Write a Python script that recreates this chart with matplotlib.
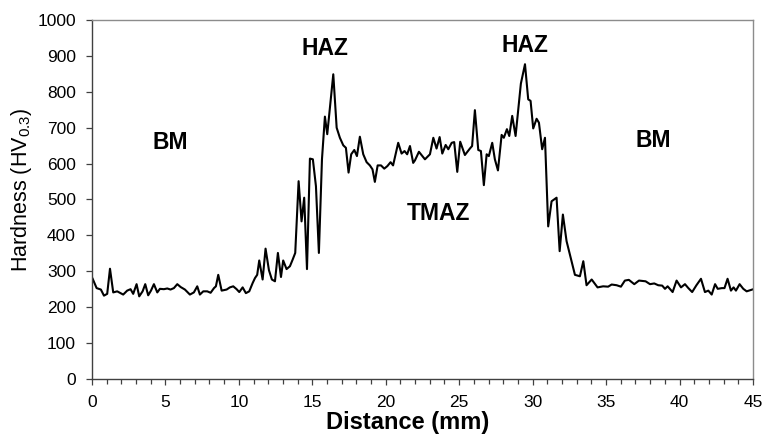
import numpy as np
import matplotlib
matplotlib.use('Agg')
import matplotlib.pyplot as plt
from matplotlib.ticker import MultipleLocator

plt.rcParams['font.family'] = ['Liberation Sans', 'DejaVu Sans']
plt.rcParams['mathtext.fontset'] = 'custom'
plt.rcParams['mathtext.rm'] = 'Liberation Sans'
plt.rcParams['mathtext.default'] = 'regular'

# hardness profile (distance in mm, hardness in HV0.3)
distance = [
    0.05, 0.32, 0.61, 0.82, 1.04, 1.23, 1.45, 1.72, 2.13, 2.40, 2.63, 2.81,
    3.04, 3.22, 3.45, 3.63, 3.83, 4.02, 4.22, 4.45, 4.63, 4.90, 5.13, 5.35,
    5.58, 5.81, 6.04, 6.33, 6.67, 6.94, 7.17, 7.35, 7.58, 7.85, 8.08, 8.31,
    8.44, 8.60, 8.83, 9.17, 9.39, 9.62, 9.85, 10.03, 10.26, 10.48, 10.71,
    10.94, 11.10, 11.25, 11.39, 11.62, 11.82, 12.05, 12.25, 12.46, 12.66,
    12.87, 13.02, 13.25, 13.48, 13.66, 13.84, 14.07, 14.27, 14.45, 14.64,
    14.84, 15.04, 15.25, 15.45, 15.66, 15.86, 16.02, 16.43, 16.66, 16.88,
    17.11, 17.29, 17.47, 17.65, 17.86, 18.04, 18.24, 18.47, 18.70, 18.92,
    19.10, 19.26, 19.45, 19.68, 19.90, 20.11, 20.33, 20.50, 20.85, 21.08,
    21.28, 21.46, 21.65, 21.87, 21.99, 22.26, 22.67, 23.01, 23.24, 23.46,
    23.67, 23.85, 24.08, 24.26, 24.49, 24.66, 24.87, 25.07, 25.39, 25.73,
    25.88, 26.07, 26.30, 26.48, 26.68, 26.87, 27.02, 27.25, 27.43, 27.64,
    27.89, 28.04, 28.25, 28.41, 28.61, 28.84, 29.02, 29.20, 29.48, 29.70,
    29.86, 30.04, 30.27, 30.43, 30.65, 30.84, 31.06, 31.29, 31.63, 31.84,
    32.06, 32.31, 32.65, 32.88, 33.22, 33.45, 33.67, 34.02, 34.42, 34.80,
    35.14, 35.38, 35.72, 36.01, 36.28, 36.55, 36.92, 37.24, 37.69, 37.99,
    38.28, 38.55, 38.82, 39.01, 39.19, 39.53, 39.80, 40.10, 40.37, 40.60,
    40.86, 41.15, 41.46, 41.73, 41.96, 42.19, 42.42, 42.60, 42.88, 43.06,
    43.27, 43.50, 43.68, 43.84, 44.09, 44.34, 44.57, 44.95,
]
hardness = [
    279, 253, 249, 232, 237, 307, 241, 244, 235, 246, 250, 237,
    264, 230, 244, 264, 233, 246, 264, 241, 251, 250, 252, 249,
    253, 264, 256, 249, 235, 241, 258, 235, 244, 244, 240, 253,
    258, 290, 246, 249, 255, 258, 250, 242, 255, 239, 244,
    267, 281, 290, 330, 277, 363, 303, 277, 272, 351,
    284, 330, 306, 314, 332, 351, 551, 439, 505, 306,
    614, 612, 537, 351, 612, 731, 682, 849, 700, 672,
    651, 644, 575, 626, 638, 621, 675, 626, 604, 595,
    584, 549, 595, 595, 586, 593, 604, 595, 658, 628,
    635, 626, 649, 602, 609, 633, 612, 626, 672, 642,
    674, 628, 652, 640, 658, 660, 577, 661, 624, 642,
    649, 749, 638, 635, 540, 626, 621, 658, 612, 581,
    680, 672, 696, 677, 733, 677, 751, 823, 877, 779,
    775, 698, 725, 714, 640, 672, 425, 495, 505, 356,
    458, 384, 328, 290, 286, 328, 261, 277, 255, 258,
    257, 263, 261, 257, 274, 276, 264, 274, 272, 264,
    266, 261, 260, 251, 258, 242, 274, 255, 264, 253,
    242, 261, 279, 242, 246, 235, 264, 251, 253, 253,
    279, 246, 255, 246, 264, 251, 244, 249,
]

zone_labels = ['BM', 'HAZ', 'TMAZ', 'HAZ', 'BM']
zone_x = [5.3, 15.85, 23.6, 29.5, 38.2]
zone_y = [658, 922, 462, 928, 665]

fig = plt.figure(figsize=(7.66, 4.37), dpi=100)
ax = fig.add_axes([0.120, 0.133, 0.863, 0.821])

ax.plot(distance, hardness, color='black', lw=1.5)

for lab, zx, zy in zip(zone_labels, zone_x, zone_y):
    ax.text(zx, zy, lab, ha='center', va='center', fontsize=16.5,
            fontweight='bold')

ax.set_xlim(0, 45)
ax.set_ylim(0, 1000)
ax.xaxis.set_major_locator(MultipleLocator(5))
ax.xaxis.set_minor_locator(MultipleLocator(1))
ax.yaxis.set_major_locator(MultipleLocator(100))

for key in ['left', 'bottom']:
    ax.spines[key].set_color('#404040')
    ax.spines[key].set_linewidth(1.0)
for key in ['top', 'right']:
    ax.spines[key].set_color('#8c8c8c')
    ax.spines[key].set_linewidth(1.0)

ax.tick_params(axis='both', which='major', direction='out', length=4.5,
               width=0.9, color='#404040', labelsize=12.5, pad=7)
ax.tick_params(axis='x', which='minor', direction='out', length=3.5,
               width=0.9, color='#404040')

ax.set_xlabel('Distance (mm)', fontsize=17, fontweight='bold')
ax.set_ylabel('Hardness (HV$_{0.3}$)', fontsize=15.5)
ax.xaxis.set_label_coords(0.478, -0.09)
ax.yaxis.set_label_coords(-0.087, 0.526)

fig.savefig('out.png', dpi=100)
